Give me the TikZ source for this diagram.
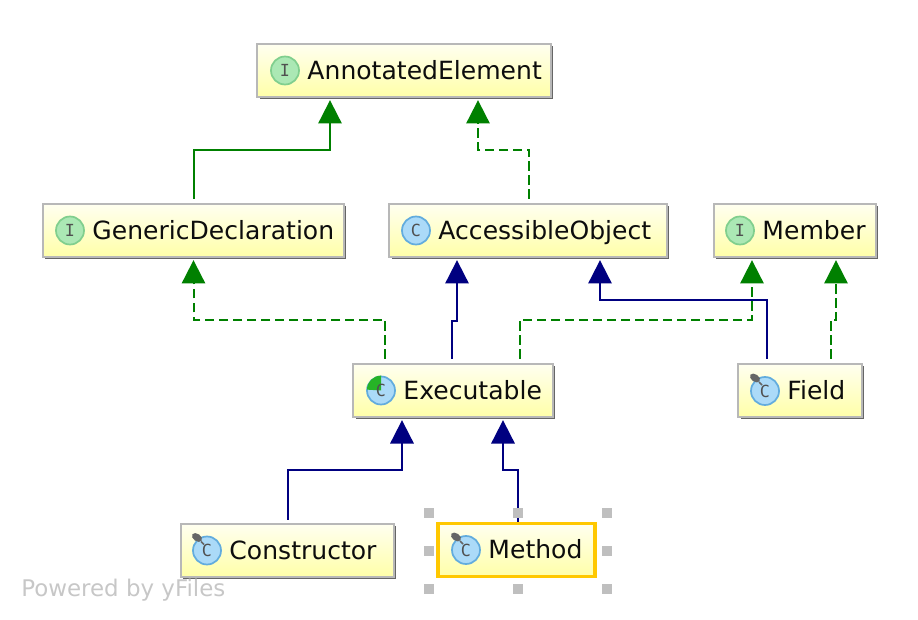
\documentclass[tikz,border=0pt]{standalone}
\usepackage{fontspec}
\setmainfont{DejaVu Sans}
\setmonofont{DejaVu Sans Mono}
\usetikzlibrary{arrows.meta,calc,positioning,shadows,shapes.geometric}
\definecolor{boxline}{HTML}{B8B8B8}
\definecolor{boxtop}{HTML}{FFFFF0}
\definecolor{boxbottom}{HTML}{FFFFA8}
\definecolor{implgreen}{HTML}{008000}
\definecolor{extnavy}{HTML}{000080}
\definecolor{selyellow}{HTML}{FFC800}
\definecolor{ifill}{HTML}{ABE8B4}
\definecolor{iline}{HTML}{80CF8E}
\definecolor{cfill}{HTML}{ABDAF8}
\definecolor{cline}{HTML}{62ACDE}
\definecolor{letter}{HTML}{505050}
\tikzset{
  classbox/.style={draw=boxline,line width=1.5pt,minimum height=40pt,inner sep=0pt,
    top color=boxtop,bottom color=boxbottom,
    drop shadow={shadow xshift=1.7pt,shadow yshift=-1.7pt,fill=black!60,opacity=1}},
  selected/.style={draw=selyellow,line width=2.6pt,minimum height=40pt,inner sep=0pt,
    top color=boxtop,bottom color=boxbottom},
  classname/.style={inner sep=0pt,font=\fontsize{18.8}{20}\selectfont,text=black!95,
    text height=15.5pt,text depth=2.5pt},
  icon/.style={circle,line width=1.3pt,minimum size=21pt,inner sep=0pt,
    font=\ttfamily\fontsize{12.5}{13}\selectfont,text=letter},
  ifaceicon/.style={icon,draw=iline,fill=ifill},
  classicon/.style={icon,draw=cline,fill=cfill},
  pinhead/.style={ellipse,fill=black!60,minimum width=8.5pt,minimum height=5.5pt,inner sep=0pt,rotate=-35},
  handle/.style={fill=black!25,minimum size=7.5pt,inner sep=0pt},
  extends/.style={-{Triangle[width=17.5pt,length=17.5pt]},line width=1.5pt},
  implements/.style={extends,dash pattern=on 7pt off 3.5pt}
}
\begin{document}
\begin{tikzpicture}[x=0.75pt,y=-0.75pt,node distance=5.5pt]
        \useasboundingbox (0,0) rectangle (918,620);
        % boxes
        \node[classbox,minimum width=220pt] (annotated) at (404,70.5) {};
        \node[classbox,minimum width=225.5pt] (generic) at (193.5,230.5) {};
        \node[classbox,minimum width=208pt] (accessible) at (528,230.5) {};
        \node[classbox,minimum width=121.5pt] (member) at (794.5,230.5) {};
        \node[classbox,minimum width=149.5pt] (executable) at (453,390.5) {};
        \node[classbox,minimum width=92.5pt] (field) at (800,390.5) {};
        \node[classbox,minimum width=159.5pt] (constructor) at (287.5,550.5) {};
        \node[selected,minimum width=118pt] (method) at (516.5,550) {};
        % icons and names
        \node[ifaceicon] (annotatedicon) at (285,70.5) {I};
        \node[classname,right=of annotatedicon] (annotatedname) {AnnotatedElement};
        \node[ifaceicon] (genericicon) at (70,230.5) {I};
        \node[classname,right=of genericicon] (genericname) {GenericDeclaration};
        \node[classicon] (accessibleicon) at (416,230.5) {C};
        \node[classname,right=of accessibleicon] (accessiblename) {AccessibleObject};
        \node[ifaceicon] (membericon) at (740,230.5) {I};
        \node[classname,right=of membericon] (membername) {Member};
        \node[classicon] (executableicon) at (381,390.5) {};
        \node[classname,right=of executableicon] (executablename) {Executable};
        \node[classicon] (fieldicon) at (765,391) {C};
        \node[classname,right=of fieldicon] (fieldname) {Field};
        \node[classicon] (constructoricon) at (207,550.5) {C};
        \node[classname,right=of constructoricon] (constructorname) {Constructor};
        \node[classicon] (methodicon) at (466,550) {C};
        \node[classname,right=of methodicon] (methodname) {Method};
        % abstract wedge and pins
        \fill[green!65!black!85] (executableicon.center) -- (executableicon.north) arc[start angle=90,end angle=180,radius=10.5pt] -- cycle;
        \node[font=\ttfamily\fontsize{12.5}{13}\selectfont,text=letter,inner sep=0pt] (executableletter) at (executableicon.center) {C};
        \node[pinhead] (fieldpin) at ($(fieldicon)+(-10,-13)$) {};
        \draw[black!60,line width=1.3pt] (fieldpin) -- ($(fieldicon)+(-3,-6)$);
        \node[pinhead] (constructorpin) at ($(constructoricon)+(-10,-13)$) {};
        \draw[black!60,line width=1.3pt] (constructorpin) -- ($(constructoricon)+(-3,-6)$);
        \node[pinhead] (methodpin) at ($(methodicon)+(-10,-13)$) {};
        \draw[black!60,line width=1.3pt] (methodpin) -- ($(methodicon)+(-3,-6)$);
        % connectors
        \draw[extends,implgreen] ($(generic.north)+(0,-4)$) -- ++(0,-49) -| ($(annotated.south)+(-74,2)$);
        \draw[implements,implgreen] ($(accessible.north)+(1,-4)$) -- ++(0,-49) -| ($(annotated.south)+(74,2)$);
        \draw[implements,implgreen] ($(executable.north)+(-68,-4)$) -- ++(0,-39) -| ($(generic.south)+(0,2)$);
        \draw[extends,extnavy] ($(executable.north)+(-1,-4)$) -- ++(0,-38) -| ($(accessible.south)+(-71,2)$);
        \draw[implements,implgreen] ($(executable.north)+(67,-4)$) -- ++(0,-39) -| ($(member.south)+(-42.5,2)$);
        \draw[extends,extnavy] ($(field.north)+(-33,-4)$) -- ++(0,-59) -| ($(accessible.south)+(72,2)$);
        \draw[implements,implgreen] ($(field.north)+(31,-4)$) -- ++(0,-39) -| ($(member.south)+(41.5,2)$);
        \draw[extends,extnavy] ($(constructor.north)+(0,-3)$) -- ++(0,-50) -| ($(executable.south)+(-51,2)$);
        \draw[extends,extnavy] ($(method.north)+(1.5,0)$) -- ++(0,-52) -| ($(executable.south)+(50,2)$);
        % selection handles
        \node[handle] (h1) at (429,513) {};
        \node[handle] (h2) at (518,513) {};
        \node[handle] (h3) at (607,513) {};
        \node[handle] (h4) at (429,551) {};
        \node[handle] (h5) at (607,551) {};
        \node[handle] (h6) at (429,589) {};
        \node[handle] (h7) at (518,589) {};
        \node[handle] (h8) at (607,589) {};
        % watermark
        \node[anchor=base west,inner sep=0pt,text=black!22,font=\fontsize{17.2}{20}\selectfont] (powered) at (21,596) {Powered by yFiles};
\end{tikzpicture}
\end{document}
